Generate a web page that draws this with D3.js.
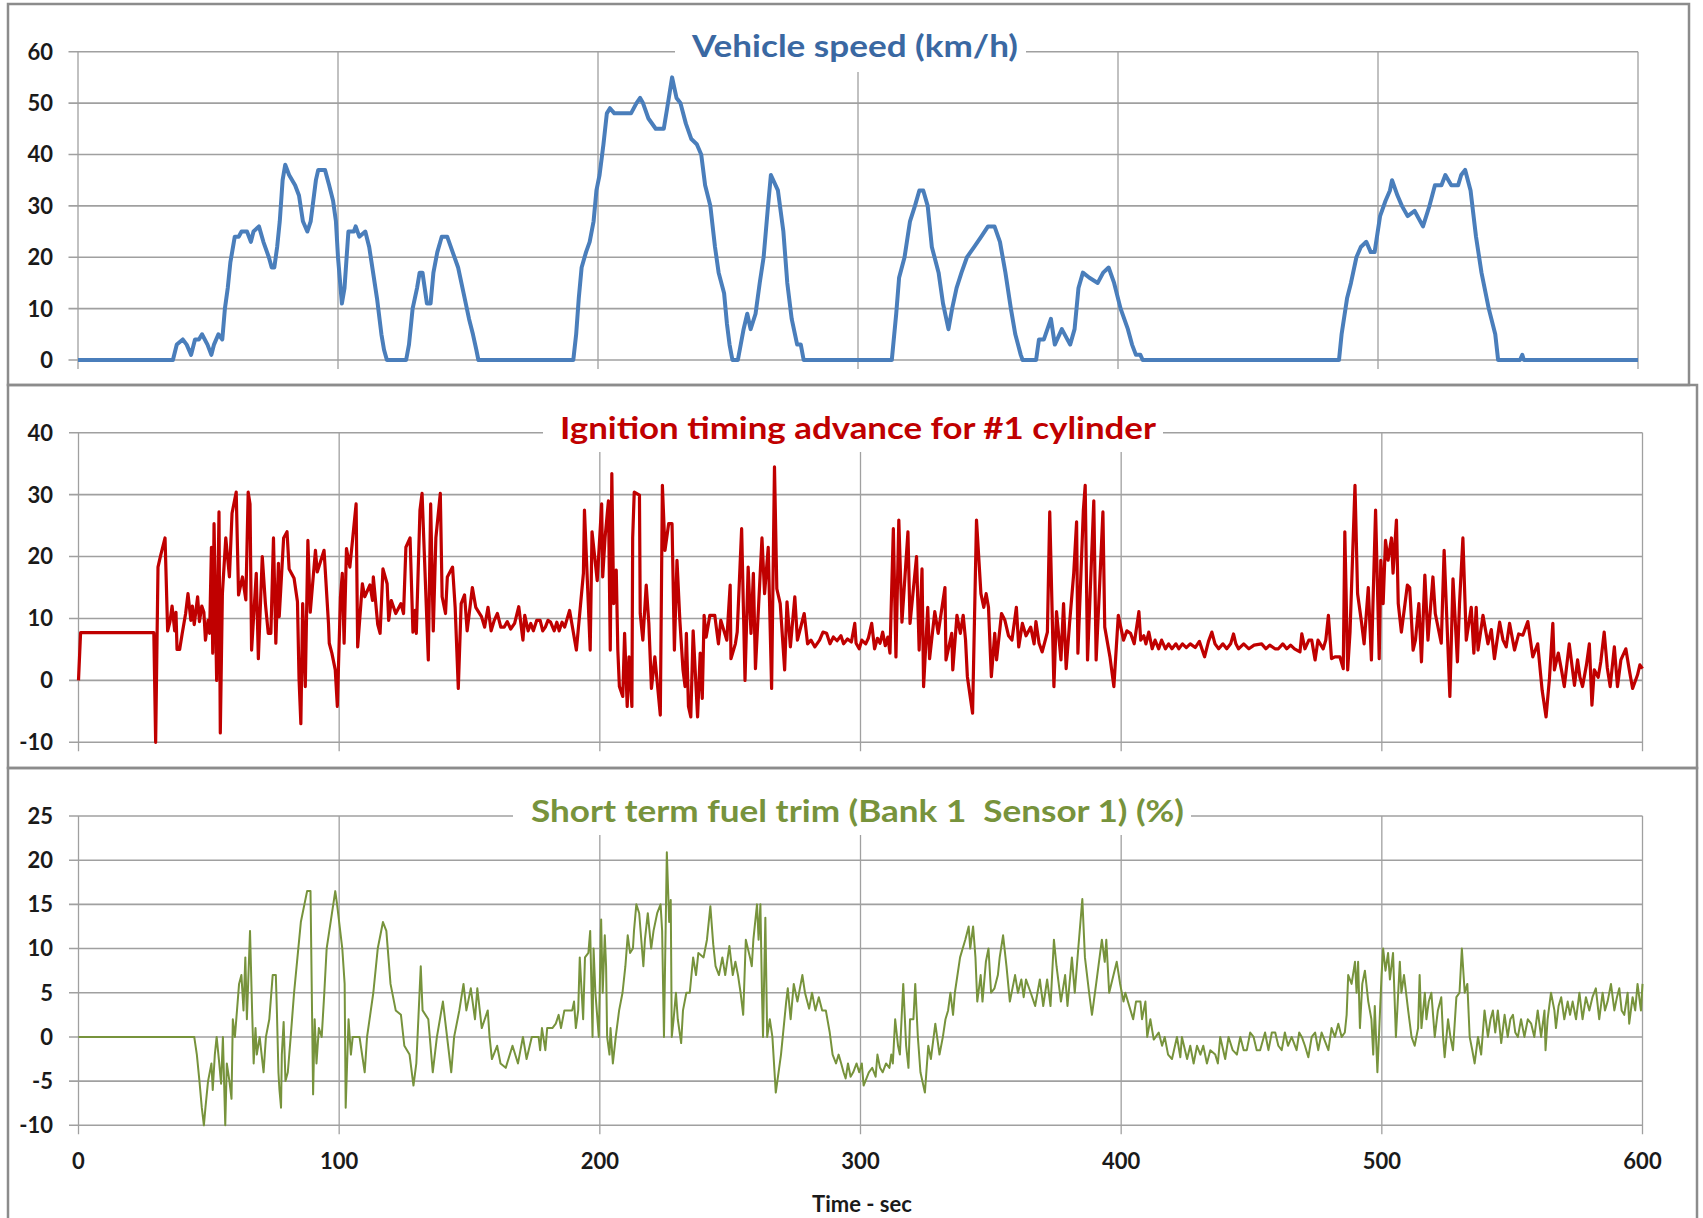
<!DOCTYPE html>
<html><head><meta charset="utf-8">
<script src="https://cdn.jsdelivr.net/npm/d3@7"></script>
<style>
body{margin:0;background:#fff}
svg{display:block}
text{font-family:Lato,"Open Sans",sans-serif;font-weight:700}
</style>
</head><body>
<svg id="c" width="1703" height="1218"></svg>
<script>
const timeTicks=[0,100,200,300,400,500,600];
const speedTicks=[0,10,20,30,40,50,60];
const ignitionTicks=[-10,0,10,20,30,40];
const fuelTrimTicks=[-10,-5,0,5,10,15,20,25];
const xAxisTitle="Time - sec";
const titles=["Vehicle speed (km/h)","Ignition timing advance for #1 cylinder","Short term fuel trim (Bank 1  Sensor 1) (%)"];

const speedData=[[0,0],[36.5,0],[38,3],[40.3,4],[41.8,3],[43.5,1],[45,4],[46.5,4],[47.7,5],[49.8,3],[51.3,1],[52.3,3],[54,5],[55.5,4],[56.5,10],[57.6,14],[58.6,19],[60.3,24],[61.8,24],[62.9,25],[65,25],[66.5,23],[67.5,25],[69.6,26],[71.3,23],[73.4,20],[74.5,18],[75.5,18],[76.6,22],[77.6,27],[78.7,35],[79.7,38],[81.2,36],[83.5,34],[85,32],[86.5,27],[88.2,25],[89.5,27],[90.5,31],[91.5,35],[92.4,37],[95,37],[96.6,34],[98.1,31],[99.2,27],[100,20],[101.5,11],[102.5,14],[104,25],[106.1,25],[106.8,26],[108.2,24],[110.5,25],[112,22],[113.5,17],[115,12],[116.7,5],[117.7,2],[118.8,0],[126.2,0],[127.3,3],[128.7,10],[130.4,14],[131.4,17],[132.5,17],[134.2,11],[135.6,11],[136.7,17],[138.2,21],[139.9,24],[142,24],[144.1,21],[146.2,18],[148.3,13],[150.4,8],[151.9,5],[153.2,2],[154,0],[190.5,0],[191.6,5],[192.6,12],[193.7,18],[195.4,21],[196.8,23],[198.3,27],[199.4,33],[200.6,36],[202.1,42],[203.4,48],[204.6,49],[206.3,48],[212.7,48],[214.8,50],[216.2,51],[217.3,50],[219.4,47],[222.2,45],[225.3,45],[226.6,49],[228.5,55],[230.2,51],[231.7,50],[233.8,46],[235.9,43],[238,42],[239.7,40],[241.2,34],[243.2,30],[245,22],[246.4,17],[248.5,13],[249.6,7],[250.6,3],[251.7,0],[253.8,0],[256,6],[257.4,9],[258.7,6],[260.6,9],[262.2,15],[263.7,20],[265.4,30],[266.5,36],[269.2,33],[271.3,25],[272.8,15],[274.5,8],[276.6,3],[278,3],[279.1,0],[313,0],[314.7,9],[315.8,16],[317.9,20],[320,27],[321.9,30],[323.6,33],[325.1,33],[326.8,30],[328.4,22],[331,17],[332.7,11],[334.8,6],[336.2,10],[337.9,14],[339.8,17],[341.9,20],[344.7,22],[347.4,24],[350,26],[352.5,26],[354.6,23],[356.7,17],[358.8,10],[360.5,5],[362.6,1],[363.3,0],[368.5,0],[369.6,4],[371.5,4],[374.2,8],[375.7,3],[378.4,6],[381.6,3],[383.3,6],[384.8,14],[386.5,17],[389,16],[392.2,15],[394.3,17],[396.4,18],[398.5,15],[401,10],[403.8,6],[405.4,3],[406.9,1],[408.6,1],[409.5,0],[485,0],[486,5],[488.1,12],[489.6,15],[491.7,20],[493.4,22],[495.5,23],[497.2,21],[498.7,21],[500.8,28],[502.9,31],[504.6,33],[505.4,35],[507.5,32],[509.2,30],[511.4,28],[514.1,29],[517.3,26],[519.8,30],[521.9,34],[524.4,34],[525.9,36],[528.2,34],[530.8,34],[532,36],[533.5,37],[535.6,33],[537.7,24],[539.8,17],[542.6,10],[545.1,5],[546.2,0],[554.6,0],[555.5,1],[556.1,0],[600,0]];

const ignitionData=[[0,0],[0.8,7.7],[28.9,7.7],[29.6,-10],[30.5,18.3],[31.4,20],[33.2,23],[34.2,8],[35.1,9.5],[35.9,12],[36.9,8],[37.4,11],[37.8,5],[38.8,5],[39.8,7.6],[41.1,10.8],[42,14],[43.1,9.7],[43.7,12],[44.4,9],[45.7,13.5],[46.4,9.5],[47.3,12],[48.1,11],[48.7,6.5],[49.7,9.7],[50.3,7.6],[51,21.5],[51.5,4.4],[52,25.3],[53,0],[53.9,27.2],[54.4,-8.5],[55.2,14],[56.5,23],[57.9,16.7],[58.9,27],[60.5,30.4],[61.4,13.8],[62.9,16.7],[64.2,13],[65.1,30.4],[65.8,28.5],[66.4,4.9],[68.2,17.3],[69,3.5],[70.5,20],[71.7,12.4],[72.8,7.6],[73.8,7.6],[74.8,23],[75.7,6],[76.7,18.9],[77,10.3],[78.7,23],[80,24],[80.8,18],[82.7,16.5],[84,12.7],[84.6,0.3],[85.3,-7],[86,12.4],[87,-1],[88,22.6],[88.9,11],[90.9,21],[91.6,17.5],[94.2,21],[95.9,9.2],[96.2,6],[97.2,4.4],[98.5,1.7],[99.3,-4.2],[100.5,13.5],[101.2,17.3],[101.9,6],[102.8,21.3],[104.1,18.3],[106.5,28.5],[107.1,5.4],[108.9,15.6],[109.8,13.5],[111.8,15.4],[112.8,12.9],[113.1,16.7],[114.8,9],[115.7,7.6],[116.8,18],[118.4,15.6],[119,9.7],[120,12.9],[121.7,10.8],[123.7,12.4],[124.7,10.8],[125.6,21.5],[127.2,23],[128.3,7.8],[129.2,11.3],[129.6,7.6],[131,27.5],[131.8,30.2],[134.2,3.3],[135.1,28.5],[136.1,8],[137.1,23],[138.8,30.2],[139.5,13.5],[140.8,10.8],[141.5,16.7],[143.5,18.3],[144.5,11.8],[145.7,-1.3],[146.8,12.4],[148.1,13.8],[149.1,8],[151.1,15],[152.4,11.8],[154.6,10.3],[155.8,8.6],[157.1,11.8],[158.3,8],[159.5,9.7],[160.7,10.8],[162,8.6],[163.3,8.6],[164.5,9.5],[165.8,8.3],[167.3,9.2],[168.9,11.9],[170.5,6.5],[171.2,10.5],[172.5,8],[173.5,9.2],[174.5,8],[175.8,9.7],[177.1,9.7],[178.1,8],[179.1,8.6],[180.1,9.7],[181.1,9.4],[182.5,8],[183.5,9.4],[184.4,8],[185.5,9.4],[186.5,8.6],[188.4,11.3],[191,4.9],[193.7,17.3],[194.1,27.5],[196.3,4.9],[197,24],[199,16.1],[200.7,28.5],[201.1,16.7],[202,23],[203.3,29],[204,4.9],[204.6,33.4],[205.3,12.4],[206.3,17.8],[206.9,4.9],[207.5,-1],[208.8,-2.6],[209.5,7.6],[210.5,-4.2],[211.2,3.8],[212.3,-4.2],[212.6,23],[213.2,30.4],[215.2,29.9],[215.5,10.8],[216.5,6.5],[217.8,15.4],[218.8,9.2],[219.8,-1.3],[221.1,3.8],[223.2,-5.6],[224,31.5],[225,21],[226.4,25.3],[227.7,25.3],[228.6,4.9],[229.6,19.4],[230.7,9.7],[231.9,1.7],[232.7,-1],[233.2,7.6],[234,-4.2],[234.9,-5.9],[235.8,8],[237.5,-5.9],[238.5,4.4],[239.3,-2.9],[240,10.5],[240.8,7],[242.2,10.5],[244.1,10.5],[245.5,5.9],[246.4,9.7],[248.7,6.5],[250,15.4],[250.3,3.5],[252,5.9],[252.7,7.8],[254.4,24.5],[255.7,0],[256.9,18.3],[258,7.6],[258.9,17.3],[259.7,1.9],[262.2,23],[263.2,14],[264.6,21.5],[265.9,-1.3],[267,34.5],[267.9,14.8],[269.2,12.4],[270.9,1.7],[271.8,12.7],[273.1,5.4],[274.8,13.5],[275.8,6.5],[278.4,10.8],[279.7,5.9],[281,6.5],[282.5,5.4],[284.3,6.5],[285.6,7.8],[287,7.6],[288.3,5.9],[289.6,7],[291,6.4],[292.5,7.2],[293.5,5.9],[295,6.7],[296.5,6.2],[297.8,9.2],[298.3,6],[299.5,5.1],[300.5,6.5],[302,5.9],[303,6.8],[304.3,9.2],[305.4,5.1],[306.5,6.8],[307.5,6],[308.5,7.8],[309.5,5.6],[310.5,7],[311.3,4.4],[312.6,24.5],[313.6,3.8],[314.7,25.9],[315.9,9.4],[318.2,24],[319,9.2],[321.5,20],[322.5,4.9],[323.6,18],[324.2,-1],[325.8,11.8],[326.5,3.5],[328.5,11.1],[329.8,7.6],[332.4,15],[332.8,3.3],[335,7.6],[335.4,1.7],[337,10.5],[338.3,7.6],[339.4,10.5],[340.3,6.5],[341,0.6],[343,-5.3],[344.5,25.9],[346.2,14],[347.3,11.8],[348.2,14],[349.1,11.8],[350.2,0.6],[351.5,7.6],[352.2,3.3],[354.1,10.8],[355.4,9.7],[356.8,7.2],[358.1,6.5],[359.8,11.8],[360.7,5.4],[362.1,9.2],[363.5,7.2],[365.3,8.6],[366.6,5.9],[367.3,9.5],[368.5,6],[369.7,4.6],[371.7,7.8],[372.6,27.2],[374.2,-1],[375.2,11.1],[376.9,3.3],[377.9,12.4],[378.9,1.9],[380.2,9.2],[381.8,17.3],[382.9,25.6],[383.4,4.4],[385.5,27.5],[386.2,31.5],[387.1,3.3],[389.5,29],[390.4,3.3],[391.7,15],[393,27.2],[393.7,8.6],[395.7,3.8],[397.2,-1],[398.9,10.5],[400.9,6.5],[402.2,8],[403.6,7.6],[405,5.9],[406.8,11.1],[407.5,6.5],[408.7,7.2],[409.5,5.9],[410.6,7.8],[411.9,5.1],[413,6.5],[414.4,5.1],[415.5,6.5],[417,5.1],[418.2,5.9],[419.5,5.1],[421,5.9],[422.1,5.1],[423.5,5.9],[425,5.3],[426.5,5.9],[428.4,5.3],[430,6.3],[432,3.8],[433.5,6.3],[434.8,7.8],[436,5.9],[437.4,5.1],[439,5.9],[440.5,5.1],[442,5.9],[443.1,7.5],[444,5.9],[445,5.1],[447,5.9],[449,5.1],[451,5.7],[453.9,5.9],[455.5,5.1],[457,5.7],[459,5.1],[460.3,5.1],[462,5.9],[463.5,5.1],[465,5.7],[466.5,5.1],[468.6,4.6],[469.3,7.5],[470.5,5.1],[472,6.5],[473.1,6.5],[474.4,3.3],[475.5,6.5],[477.5,5.1],[478.5,6.5],[479.5,10.5],[480.7,3.5],[482,3.8],[483.9,3.8],[485.2,1.9],[485.8,24],[486.9,1.7],[487.8,7.8],[489.7,31.5],[490.7,14],[492.2,9.4],[493.2,5.9],[494.8,15],[496,3.3],[497.6,27.5],[499,3.5],[499.6,19.4],[500.5,12.4],[501.4,22.6],[502.4,19.4],[503.7,23],[504.3,17.3],[505.6,25.9],[506.3,12.4],[507.5,7.8],[509.8,15.4],[510.7,15],[512,4.9],[512.9,6.5],[514.2,12.4],[515.2,3],[516.5,17],[517.7,6.5],[519.6,16.7],[520.5,10.8],[522.8,6],[523.9,21],[526.1,-2.6],[527.3,16.4],[529,3],[529.8,12.4],[531.1,23],[532.4,6.5],[534.3,11.8],[535.3,4.4],[536.2,11.8],[536.9,4.9],[538.8,10.5],[540.7,5.9],[542,8.2],[543.2,3.5],[545.2,9.4],[546.5,6.5],[547.7,5.4],[549,9.2],[550.9,4.9],[552.5,7.5],[554.1,7.3],[556,9.5],[557.9,3.8],[559.8,5.9],[561.5,-1.6],[563,-5.9],[564.3,0.3],[565.6,9.2],[566.2,1.7],[567.7,4.4],[569,1.5],[570,-1],[571.9,5.9],[573.9,-0.8],[575.1,3.3],[576,0.5],[577,-1],[578.5,2.5],[579.6,5.9],[580.6,-4],[581.5,1.7],[583,0.5],[584,3],[585.3,7.8],[586.5,2],[587.6,-1],[589.2,5.4],[590.4,-1],[591.7,3.3],[593.6,5.1],[595,1.5],[596.2,-1.3],[598.1,0.9],[599,2.5],[600,1.9]];

const fuelTrimData=[[0,0],[44.4,0],[45.4,-2],[46.4,-5],[47.3,-8],[48.1,-10],[48.7,-8],[49.7,-5],[51,-3],[51.5,-6],[52.3,-2],[53,0],[54,-3],[54.7,-5.3],[55.4,0],[56.3,-10],[56.9,-3],[57.9,-5],[58.7,-7],[59.2,2],[60,0],[61.6,6],[62.5,7],[63.3,3],[64,9],[64.6,2],[65.8,12],[66.6,3],[67.2,-3],[67.9,1],[68.4,-2],[69.5,0],[71,-4],[71.9,0],[73.2,2],[74.5,7],[75.7,7],[76.1,3],[76.7,-4],[77.1,-6],[77.7,-8],[78,-2],[78.7,1.7],[79.4,-5],[80.3,-4],[81.4,0],[82.7,5],[84,9],[85.3,13],[87.7,16.5],[89,16.5],[90,-6.5],[90.6,2],[91.3,-3],[92.2,1],[93.3,0],[94.3,5],[95.2,10],[98.5,16.5],[99.2,15],[101.2,10],[102.1,6],[102.5,-8],[103.6,2],[104.5,-2],[105.2,0],[107.8,0],[109.8,-4],[110.7,0],[113.1,5],[114.8,10],[116.8,13],[118.1,12],[119.7,6],[121.7,3],[123.7,2.5],[125,-1],[127,-2],[128.5,-5.5],[129.6,-3],[131.3,8],[132,3],[134.2,2],[135.9,-4],[137.5,0],[139.8,4],[143,-4],[144.1,0],[146.1,3],[147.7,6],[148.8,3],[150.5,5.5],[152.1,2],[153,5.5],[154.7,1],[157,3],[157.7,0],[158.6,-2.5],[160.6,-1],[161.9,-3],[163.9,-3.5],[166.5,-1],[168.6,-3],[170.5,0],[171.9,-2.5],[173.9,0],[176.5,0],[177.1,-1.5],[177.8,1],[179.1,-1.5],[179.8,1],[181.8,1],[183.1,1.5],[184.2,2.5],[185.1,1],[186.4,3],[189.4,3],[190.1,4],[190.8,1],[191.7,3],[192.3,9],[193.6,2],[194.3,9],[195.6,9.5],[196.3,12],[197.2,0],[197.6,10],[198.3,5],[199.6,0],[200.5,13.3],[201.1,5],[201.9,11.5],[202.4,8],[202.8,0],[203.7,-2],[204.1,1],[205,-3],[206.1,0],[207.4,3],[208.7,5],[209.8,8],[210.7,11.5],[211.6,9.5],[212.7,10],[213.1,12],[214,15],[215.1,14],[216.7,8],[217.3,11],[218.4,14],[219.7,10],[220.6,12],[222,14],[223.3,15],[223.9,12],[224.6,0],[225.7,20.9],[226.6,13],[227.2,15.5],[227.6,0],[228.3,2],[229.2,5],[229.9,2],[231.2,-0.7],[231.9,3],[233.2,5],[234.5,5],[235.8,9],[236.9,7],[237.8,9.5],[239.8,9],[241.1,11],[242.4,14.8],[243.5,10.5],[244.4,8],[245.7,7],[247,9],[248.1,7],[249.7,10.3],[251,7],[252,8.5],[253,7],[254,5],[255,2.5],[256,11],[257.6,9],[258.3,8],[258.9,11],[260.3,15],[260.9,11],[261.6,15],[262.2,5],[262.6,0],[263.5,13.5],[264.2,0],[265.2,2],[266.2,0],[267.5,-6.3],[269.5,-2],[271.5,4],[272.1,5.5],[273.2,2],[274.4,6],[275.8,4],[277.7,7],[278.7,5],[280.3,3.2],[281.4,5],[282.7,3],[284,4.5],[285.3,3],[286.7,3],[288.2,0.5],[289.3,-2],[290.6,-3],[291.6,-2],[292.6,-3],[293.5,-4],[294.3,-4.7],[295.2,-3],[296.2,-4.5],[297.2,-4],[298.5,-3],[299.5,-4],[300.5,-3],[301.2,-5.5],[303.2,-4],[304.5,-3.5],[305.8,-4.5],[306.5,-2],[307.5,-3.5],[308.5,-4],[309.8,-3],[311.1,-3.5],[311.8,-2],[312.4,-3],[313.3,2],[314.4,-1],[315.1,-2],[316.4,6],[317.5,-1],[318.4,-3.5],[319,2],[320.3,2],[321,6],[322,0],[323,-4],[324.7,-6.3],[326,-1],[327,-2.5],[328.7,1.5],[330.3,-2],[331.6,0],[332.6,2],[333.6,3],[334.5,5],[335.5,2.5],[336.2,5],[338.2,9],[339.2,10],[340.2,11],[341.5,12.5],[342.1,10],[343.2,12.5],[344.1,9],[344.8,4],[346.1,7],[346.8,4],[348.1,8.5],[349.1,10],[350.1,5],[351.4,5.5],[352.7,7],[353.4,9],[354.7,11.5],[356,8],[357.3,4],[359.3,7],[360.4,5],[361.7,6.5],[362.6,4.5],[363.5,6.5],[365.3,5],[367,3.5],[368.8,6.5],[370.1,3.5],[371.6,6.5],[372.9,3.5],[374.2,11],[375.2,8],[376.9,4],[378.5,7],[379.4,3.5],[381.1,9],[382.2,5],[383.4,9.5],[385.1,15.6],[386.1,9],[387.7,5],[388.8,2.5],[390.4,6],[392.6,11],[393.7,8.5],[394.3,11],[395.4,5],[398.3,8.5],[399.6,6],[400.9,4],[401.6,5],[404.6,2],[405.7,4],[407.4,4],[408,2],[409.3,4],[410,0],[411.2,2],[412.5,-0.3],[414.4,0.5],[415.7,-1],[416.7,0],[418,-2],[419.5,-2.5],[421.4,0],[422.7,-2.3],[423.3,0],[425.3,-2.5],[426.5,-1],[427.8,-3],[429.1,-1],[430.4,-2],[431.5,-1],[432.9,-3],[434.2,-1.5],[436.1,-2],[437.1,-3],[438,0],[439.9,-2.5],[441.2,0],[442.8,-1.5],[444.4,-2],[445.7,0],[447,-1.5],[448.2,-1.5],[449.5,0.5],[450.8,0],[452,-1.5],[453.3,-1.5],[455.2,0.5],[456.5,-1.5],[457.8,0.5],[459.1,0.5],[460.3,-1],[461.6,-1.5],[462.8,0.5],[464,-1],[465.4,0],[467.3,-1.5],[468.3,0.5],[469.3,0],[470.5,-1],[471.8,-2.3],[473.1,0],[474.4,0.5],[475.6,-1.5],[476.9,0.5],[478.2,-0.5],[479.5,-1.5],[480.7,1],[482,0],[483.3,1.5],[484.6,0],[485.8,0.5],[486.5,2.5],[487.1,7],[488.4,6],[489.7,8.5],[490.3,5],[490.9,8.5],[491.6,1],[492.5,6],[493.5,7.5],[494.8,4],[496,2],[496.7,-2],[497.3,3.5],[498.3,-4],[499.9,7],[500.5,10],[501.4,7.5],[502.4,9.5],[503.1,6.5],[504.3,9.5],[505.4,0],[506.9,8.5],[507.5,5],[508.5,7],[510.1,3],[511.4,0],[512.6,-1],[513.9,1],[514.5,7],[515.2,1],[516.5,5],[517.1,2],[518,4],[519,5],[520.3,0],[521.5,3],[522.8,4.5],[523.5,0],[524.1,-2.3],[525.4,2],[526.3,0],[527.3,-1.5],[528.6,4.5],[529.8,5],[530.7,10],[531.8,5],[532.8,6],[533.7,0],[534.7,-1.5],[535.6,-3],[536.9,0],[538.1,-2],[539.4,3],[540.7,0],[541.7,2],[542.6,3],[543.5,0.5],[544.5,3],[545.8,-0.7],[547.1,2.5],[548.3,0],[549.3,2],[550.3,2.5],[551.2,0.5],[552.2,0],[553.4,2],[554.7,0],[556,2],[557.3,1.5],[558.5,0],[559.8,3],[561.1,0],[562.4,3],[562.8,-1.5],[563.6,2],[564.9,5],[566.2,3],[566.8,1],[567.8,3.5],[568.8,4.5],[570,2],[571.3,4],[572.2,2.5],[573.2,4],[574.5,2],[575.8,5],[577,2],[578.3,4.5],[579.6,3],[580.8,4.5],[582.1,5.5],[583.4,2],[584.7,5],[585.6,3],[586.6,4],[587.9,6],[589.2,3],[590.2,4.5],[591.1,5.5],[592,3],[593,2.5],[594.3,5],[594.9,1.5],[596.2,4.5],[597.2,3],[598.1,6],[599.4,3],[600,6]];

const svg=d3.select("#c");
svg.append("rect").attr("width",1703).attr("height",1218).attr("fill","#fff");

const panels=[
  {data:speedData,ticks:speedTicks,domain:[0,60],x:[78,1638],y:[360,51.7],color:"#4A7EBB",lw:4,
   title:titles[0],tColor:"#3A68A2",tX:[692,1018],tBase:57,box:[675,1026,72],frame:[8,4,1689,385],xLabels:false},
  {data:ignitionData,ticks:ignitionTicks,domain:[-10,40],x:[78.5,1642.5],y:[742.3,432.7],color:"#C00000",lw:3.2,
   title:titles[1],tColor:"#C00000",tX:[560,1156],tBase:439,box:[543,1163,452],frame:[8,385,1697,768],xLabels:false},
  {data:fuelTrimData,ticks:fuelTrimTicks,domain:[-10,25],x:[78.5,1642.5],y:[1125.3,816],color:"#77933C",lw:2,
   title:titles[2],tColor:"#77933C",tX:[531,1184],tBase:822,box:[513,1191,835],frame:[8,768,1697,1240],xLabels:true}
];

panels.forEach(p=>{
  const g=svg.append("g");
  g.append("rect").attr("x",p.frame[0]).attr("y",p.frame[1])
    .attr("width",p.frame[2]-p.frame[0]).attr("height",p.frame[3]-p.frame[1])
    .attr("fill","none").attr("stroke","#8c8c8c").attr("stroke-width",2.5);
  const xs=d3.scaleLinear().domain([0,600]).range(p.x);
  const ys=d3.scaleLinear().domain(p.domain).range(p.y);
  g.append("g").selectAll("line").data(p.ticks).join("line")
    .attr("x1",p.x[0]-9.5).attr("x2",p.x[1]).attr("y1",d=>ys(d)).attr("y2",d=>ys(d))
    .attr("stroke","#a0a0a0").attr("stroke-width",1.6);
  g.append("g").selectAll("line").data(timeTicks).join("line")
    .attr("x1",d=>xs(d)).attr("x2",d=>xs(d)).attr("y1",p.y[1]).attr("y2",p.y[0]+9)
    .attr("stroke","#a0a0a0").attr("stroke-width",1.3);
  g.append("g").selectAll("text").data(p.ticks).join("text")
    .attr("x",53).attr("y",d=>ys(d)).attr("dy","0.36em").attr("text-anchor","end")
    .attr("font-size",22).attr("fill","#1a1a1a").text(d=>d);
  g.append("rect").attr("x",p.box[0]).attr("y",p.frame[1]+3).attr("width",p.box[1]-p.box[0])
    .attr("height",p.box[2]-p.frame[1]-3).attr("fill","#fff");
  g.append("text").attr("x",p.tX[0]).attr("y",p.tBase).attr("font-size",30)
    .attr("fill",p.tColor).attr("textLength",p.tX[1]-p.tX[0]).attr("lengthAdjust","spacingAndGlyphs")
    .style("white-space","pre").text(p.title);
  const line=d3.line().x(d=>xs(d[0])).y(d=>ys(d[1]));
  g.append("path").datum(p.data).attr("d",line).attr("fill","none")
    .attr("stroke",p.color).attr("stroke-width",p.lw).attr("stroke-linejoin","round");
  if(p.xLabels){
    g.append("g").selectAll("text").data(timeTicks).join("text")
      .attr("x",d=>xs(d)).attr("y",1169).attr("text-anchor","middle")
      .attr("font-size",22).attr("fill","#1a1a1a").text(d=>d);
    g.append("text").attr("x",862).attr("y",1212).attr("text-anchor","middle")
      .attr("font-size",22).attr("fill","#1a1a1a").text(xAxisTitle);
  }
});
</script>
</body></html>
